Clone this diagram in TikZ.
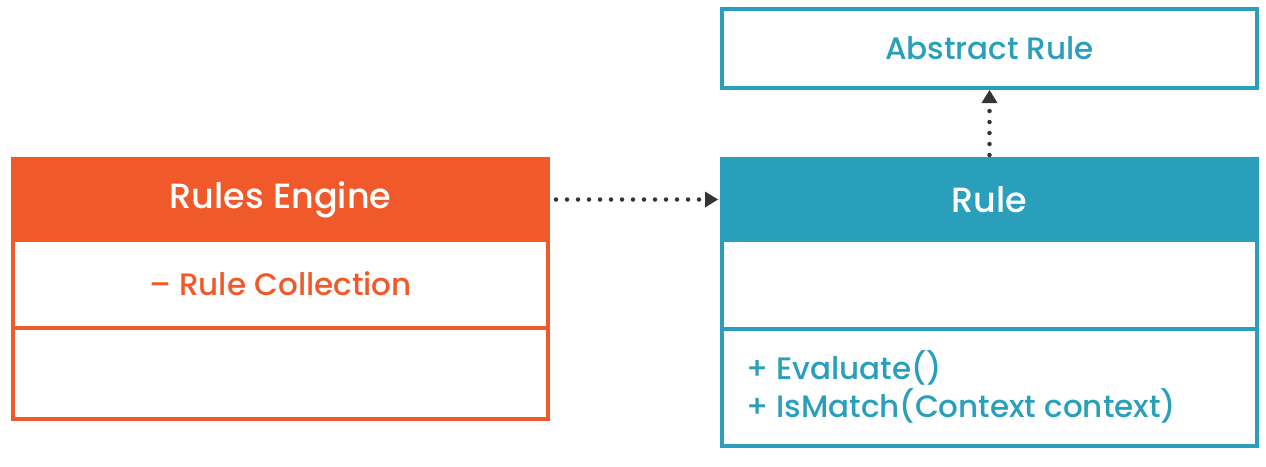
\documentclass[tikz,border=0pt]{standalone}
\usepackage{fontspec}
\setmainfont{Poppins Medium}
\usetikzlibrary{arrows.meta,positioning}
\definecolor{eng}{HTML}{F05A2A}
\definecolor{rul}{HTML}{2A9FBC}
\definecolor{arr}{HTML}{333333}
\begin{document}
\begin{tikzpicture}[x=1pt,y=-1pt,
  box/.style={rectangle,draw,line width=4pt,inner sep=0pt,anchor=north west,minimum width=535pt},
  head/.style={box,text=white,font=\fontsize{35}{40}\selectfont},
  member/.style={font=\fontsize{31}{36}\selectfont},
  dep/.style={arr,line width=4.5pt,line cap=round,dash pattern=on 0pt off 11pt,-{Triangle[length=13pt,width=16pt,line width=0pt]}}]
\useasboundingbox (0,0) rectangle (1266,466);
% Rules Engine
\node[head,draw=eng,fill=eng,minimum height=81pt] (eng) at (11,157) {Rules Engine};
\node[box,draw=eng,minimum height=88pt,member,text=eng] (engattr) at (11,238) {– Rule Collection};
\node[box,draw=eng,minimum height=91pt] (engops) at (11,326) {};
% Rule
\node[head,draw=rul,fill=rul,minimum height=81pt] (rule) at (720,157) {Rule};
\node[box,draw=rul,minimum height=89pt] (ruleattr) at (720,238) {};
\node[box,draw=rul,minimum height=117pt] (ruleops) at (720,327) {};
\node[member,text=rul,anchor=west,align=left,inner sep=0pt] (opstext) at (746,387) {+ Evaluate()\\[2pt]+ IsMatch(Context context)};
% Abstract Rule
\node[box,draw=rul,minimum height=79pt,member,text=rul] (abs) at (720,7) {Abstract Rule};
% connectors
\draw[dep,shorten <=6pt,shorten >=2pt] (eng.east) -- (rule.west);
\draw[dep,shorten <=2pt,shorten >=0pt] (rule.north) -- (abs.south);
\end{tikzpicture}
\end{document}
